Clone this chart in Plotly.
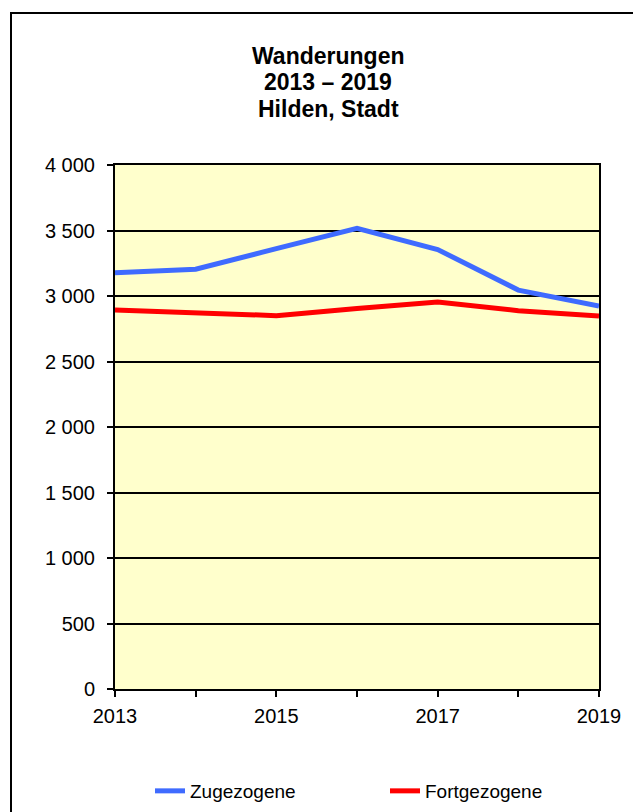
import plotly.graph_objects as go

years = [2013, 2014, 2015, 2016, 2017, 2018, 2019]
zugezogene = [3178, 3204, 3362, 3517, 3355, 3045, 2924]
fortgezogene = [2893, 2868, 2850, 2905, 2954, 2888, 2847]
y_tickvals = [0, 500, 1000, 1500, 2000, 2500, 3000, 3500, 4000]
y_ticktext = ["0", "500", "1 000", "1 500", "2 000", "2 500", "3 000", "3 500", "4 000"]
x_tickvals = [2013, 2015, 2017, 2019]
title_lines = ["Wanderungen", "2013 – 2019", "Hilden, Stadt"]

OFF = 8  # page body margin
W, H = 641 - OFF, 812 - OFF
L, R, T, B = 115 - OFF, 599 - OFF, 165 - OFF, 689 - OFF

fig = go.Figure()
fig.add_trace(go.Scatter(x=years, y=zugezogene, mode="lines", name="Zugezogene",
                         line=dict(color="#3f6bff", width=5)))
fig.add_trace(go.Scatter(x=years, y=fortgezogene, mode="lines", name="Fortgezogene",
                         line=dict(color="#ff0000", width=5)))

pw, ph = R - L, B - T
def px(x):
    return (x - OFF - L) / pw
def py(y):
    return (B - (y - OFF)) / ph
def cx(x):
    return (x - OFF) / W
def cy(y):
    return 1 - (y - OFF) / H

fig.add_shape(type="rect", xref="paper", yref="paper",
              x0=px(11), x1=px(638), y0=py(13), y1=py(840),
              line=dict(color="black", width=2), fillcolor="rgba(0,0,0,0)", layer="below")

for txt, yy in zip(title_lines, [56, 82, 109]):
    fig.add_annotation(text="<b>" + txt + "</b>", xref="paper", yref="paper",
                       x=px(328), y=py(yy), xanchor="center", yanchor="middle",
                       showarrow=False, font=dict(size=23))

fig.update_layout(
    width=W, height=H,
    margin=dict(l=L, r=W - R, t=T, b=H - B, pad=0),
    paper_bgcolor="white",
    plot_bgcolor="#ffffcc",
    font=dict(family="Liberation Sans, Arial, sans-serif", color="black", size=20),
    showlegend=True,
    legend=dict(orientation="h", xref="container", yref="container",
                x=cx(150), xanchor="left", y=cy(791), yanchor="middle",
                font=dict(size=19), entrywidth=190, bgcolor="rgba(0,0,0,0)", itemwidth=30),
)
fig.update_xaxes(range=[2013, 2019], tickvals=years,
                 ticktext=[str(y) if y in x_tickvals else "" for y in years],
                 showgrid=False, zeroline=False,
                 showline=True, linecolor="black", linewidth=2, mirror=True,
                 ticks="outside", ticklen=6, tickwidth=2, tickcolor="black",
                 ticklabelstandoff=2)
fig.update_yaxes(range=[0, 4000], tickvals=y_tickvals, ticktext=y_ticktext,
                 showgrid=True, gridcolor="black", gridwidth=2, zeroline=False,
                 showline=True, linecolor="black", linewidth=2, mirror=True,
                 ticks="outside", ticklen=6, tickwidth=2, tickcolor="black",
                 ticklabelstandoff=8)

fig.write_html("out.html")
